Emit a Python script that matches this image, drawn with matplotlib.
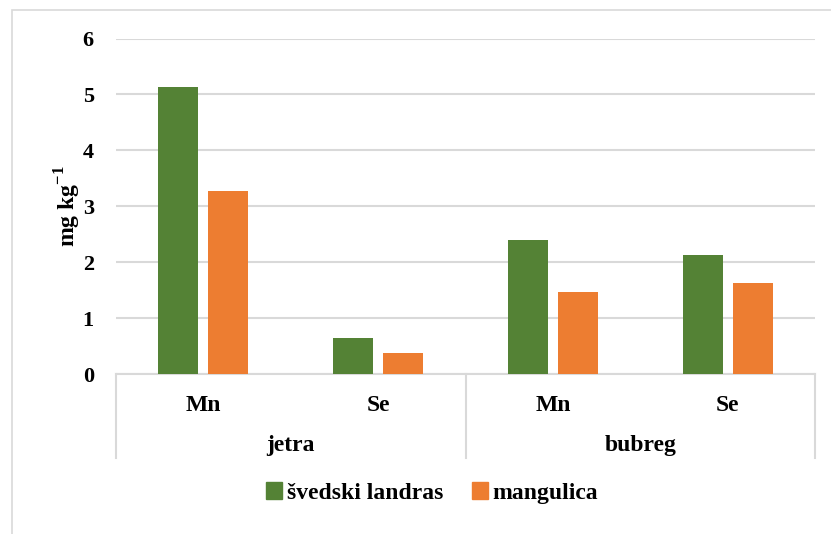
from matplotlib import pyplot as plt
from matplotlib.patches import Rectangle, Patch
import matplotlib.transforms as mtransforms
import numpy as np

plt.rcParams['font.family'] = 'Liberation Serif'
plt.rcParams['font.weight'] = 'bold'
plt.rcParams['mathtext.fontset'] = 'custom'
plt.rcParams['mathtext.rm'] = 'Liberation Serif:bold'
plt.rcParams['mathtext.bf'] = 'Liberation Serif:bold'
plt.rcParams['axes.unicode_minus'] = False

groups = ['jetra', 'bubreg']
elements = ['Mn', 'Se', 'Mn', 'Se']
series = ['švedski landras', 'mangulica']
landras = [5.13, 0.64, 2.39, 2.13]
mangulica = [3.27, 0.375, 1.47, 1.63]
colors = ['#548235', '#ED7D31']
F = dict(family='Liberation Serif', weight='bold')

fig = plt.figure(figsize=(8.31, 5.34), dpi=100)
# outer chart border
fig.patches.append(Rectangle((12 / 831, -0.1), 1.1, 1 - 10 / 534 + 0.1, transform=fig.transFigure,
                             fill=False, edgecolor='#D9D9D9', linewidth=1.2))

ax = fig.add_axes([116 / 831, 1 - 374 / 534, (815 - 116) / 831, (374 - 38.5) / 534])
x = np.arange(len(elements))
w = 0.229
ax.bar(x - 0.143, landras, w, color=colors[0], label=series[0], zorder=3)
ax.bar(x + 0.143, mangulica, w, color=colors[1], label=series[1], zorder=3)

ax.set_xlim(-0.5, len(elements) - 0.5)
ax.set_ylim(0, 6)
ax.set_yticks(range(0, 7))
ax.set_yticklabels([str(v) for v in range(0, 7)], fontsize=16, **F)
ax.yaxis.grid(True, color='#D9D9D9', linewidth=1.5, zorder=0)
ax.set_axisbelow(True)
for s in ['top', 'right', 'left']:
    ax.spines[s].set_visible(False)
ax.spines['bottom'].set_color('#D9D9D9')
ax.spines['bottom'].set_linewidth(1.5)
ax.tick_params(length=0)
ax.tick_params(axis='y', pad=16)
ax.set_xticks(x)
ax.set_xticklabels(elements, fontsize=17, **F)
ax.tick_params(axis='x', pad=15)

trans = mtransforms.blended_transform_factory(ax.transData, ax.transAxes)
lo = -84 / 335.5
for b in [-0.5, 1.5, 3.5]:
    ax.plot([b, b], [0, lo], color='#D9D9D9', linewidth=1.5, transform=trans, clip_on=False)
for i, g in enumerate(groups):
    ax.text(2 * i + 0.5, -72 / 335.5, g, transform=trans, ha='center', va='center', fontsize=17, **F)

ax.set_ylabel(r'mg kg$^{-1}$', fontsize=17, labelpad=0, **F)

handles = [Patch(color=c, label=s) for c, s in zip(colors, series)]
fig.legend(handles=handles, loc='center', bbox_to_anchor=(432 / 831, 1 - 493 / 534), ncol=2,
           frameon=False, prop=dict(family='Liberation Serif', weight='bold', size=17),
           handlelength=0.7, handleheight=0.7, handletextpad=0.2, columnspacing=1.2)

plt.savefig('out.png', dpi=100)
